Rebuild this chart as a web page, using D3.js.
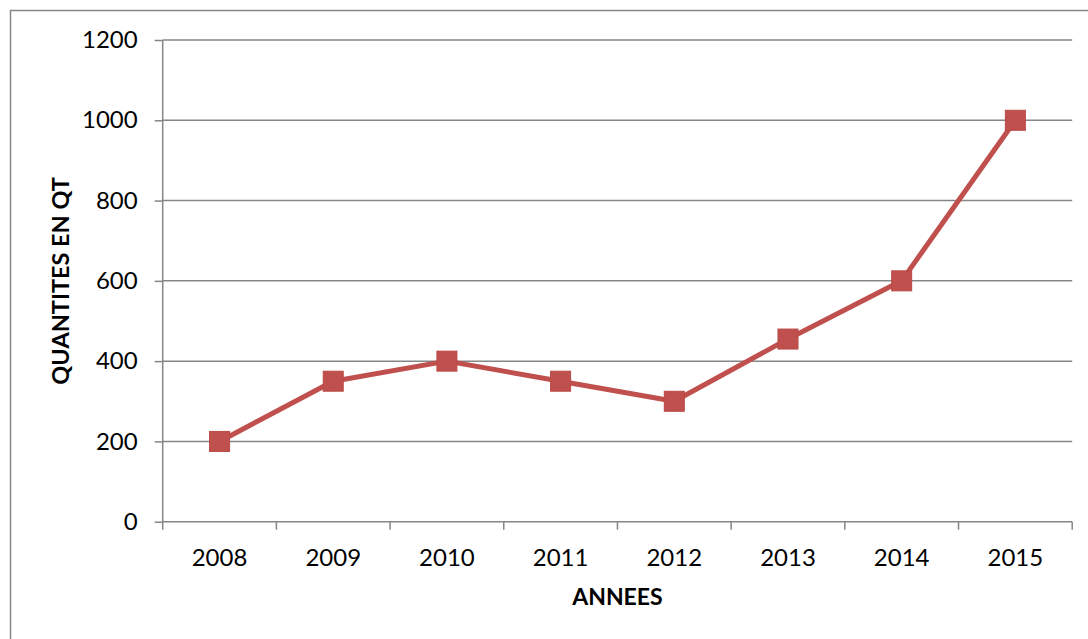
<!DOCTYPE html>
<html>
<head>
<meta charset="utf-8">
<script src="https://cdn.jsdelivr.net/npm/d3@7"></script>
<style>
  body { margin: 0; background: #fff; }
  text { font-family: Lato, "Open Sans", sans-serif; fill: #000; }
</style>
</head>
<body>
<div id="chart"></div>
<script>
const layout = {
    width: 1088,
    height: 639,
    marginTop: 40,
    marginLeft: 162.7,
    chartWidth: 909.5,
    chartHeight: 481.7
};

// data
const years = ["2008", "2009", "2010", "2011", "2012", "2013", "2014", "2015"];
const quantities = [200, 350, 400, 350, 300, 455, 600, 1000];
const yTicks = [0, 200, 400, 600, 800, 1000, 1200];

const gridColor = "#868686";
const lineColor = "#c0504d";

let svg = d3.select("#chart").append("svg")
    .attr("width", layout.width)
    .attr("height", layout.height);

// outer chart frame (runs off the right and bottom edges)
svg.append("rect")
    .attr("x", 10.5).attr("y", 10.5)
    .attr("width", 1200).attr("height", 800)
    .attr("fill", "none")
    .attr("stroke", gridColor)
    .attr("stroke-width", 1.5);

let xScale = d3.scaleBand()
    .domain(years)
    .range([0, layout.chartWidth]);

let yScale = d3.scaleLinear()
    .domain([0, 1200])
    .range([layout.chartHeight, 0]);

let plot = svg.append("g")
    .attr("transform", `translate(${layout.marginLeft},${layout.marginTop})`);

// horizontal gridlines
plot.append("g")
    .selectAll("line")
    .data(yTicks.filter(d => d > 0))
    .enter().append("line")
    .attr("x1", 0)
    .attr("x2", layout.chartWidth)
    .attr("y1", d => yScale(d))
    .attr("y2", d => yScale(d))
    .attr("stroke", gridColor)
    .attr("stroke-width", 1.5);

// y axis
let yAxis = plot.append("g")
    .call(d3.axisLeft(yScale).tickValues(yTicks).tickFormat(d3.format("d")).tickSize(8).tickPadding(17));
yAxis.selectAll("line, .domain").attr("stroke", gridColor).attr("stroke-width", 1.5);
yAxis.select(".domain").attr("d", `M0,${layout.chartHeight}V0`);
yAxis.selectAll("text")
    .attr("font-size", 24)
    .attr("font-family", "Lato, sans-serif")
    .attr("fill", "#000");

// x axis, ticks on category boundaries
let xAxis = plot.append("g")
    .attr("transform", `translate(0,${layout.chartHeight})`)
    .call(d3.axisBottom(xScale).tickSize(0).tickPadding(27));
xAxis.select(".domain").attr("stroke", gridColor).attr("stroke-width", 1.5)
    .attr("d", `M0,0H${layout.chartWidth}`);
xAxis.selectAll("text")
    .attr("font-size", 24)
    .attr("font-family", "Lato, sans-serif")
    .attr("fill", "#000");

let bounds = years.map(d => xScale(d)).concat([layout.chartWidth]);
xAxis.append("g")
    .selectAll("line")
    .data(bounds)
    .enter().append("line")
    .attr("x1", d => d).attr("x2", d => d)
    .attr("y1", 0).attr("y2", 8)
    .attr("stroke", gridColor)
    .attr("stroke-width", 1.5);

// axis titles
svg.append("text")
    .attr("transform", `translate(69,${layout.marginTop + layout.chartHeight / 2}) rotate(-90)`)
    .attr("text-anchor", "middle")
    .attr("font-size", 23.5)
    .attr("font-weight", "bold")
    .text("QUANTITES EN QT");

svg.append("text")
    .attr("x", layout.marginLeft + layout.chartWidth / 2)
    .attr("y", 605)
    .attr("text-anchor", "middle")
    .attr("font-size", 23)
    .attr("font-weight", "bold")
    .text("ANNEES");

// series line
let points = years.map((y, i) => ({ year: y, value: quantities[i] }));
let cx = d => xScale(d.year) + xScale.bandwidth() / 2;

plot.append("path")
    .datum(points)
    .attr("fill", "none")
    .attr("stroke", lineColor)
    .attr("stroke-width", 5)
    .attr("stroke-linejoin", "round")
    .attr("d", d3.line().x(cx).y(d => yScale(d.value)));

// square markers
const markerSize = 20;
plot.selectAll(".marker")
    .data(points)
    .enter().append("rect")
    .attr("class", "marker")
    .attr("x", d => cx(d) - markerSize / 2)
    .attr("y", d => yScale(d.value) - markerSize / 2)
    .attr("width", markerSize)
    .attr("height", markerSize)
    .attr("fill", lineColor)
    .attr("stroke", "#b94a47")
    .attr("stroke-width", 1);
</script>
</body>
</html>
